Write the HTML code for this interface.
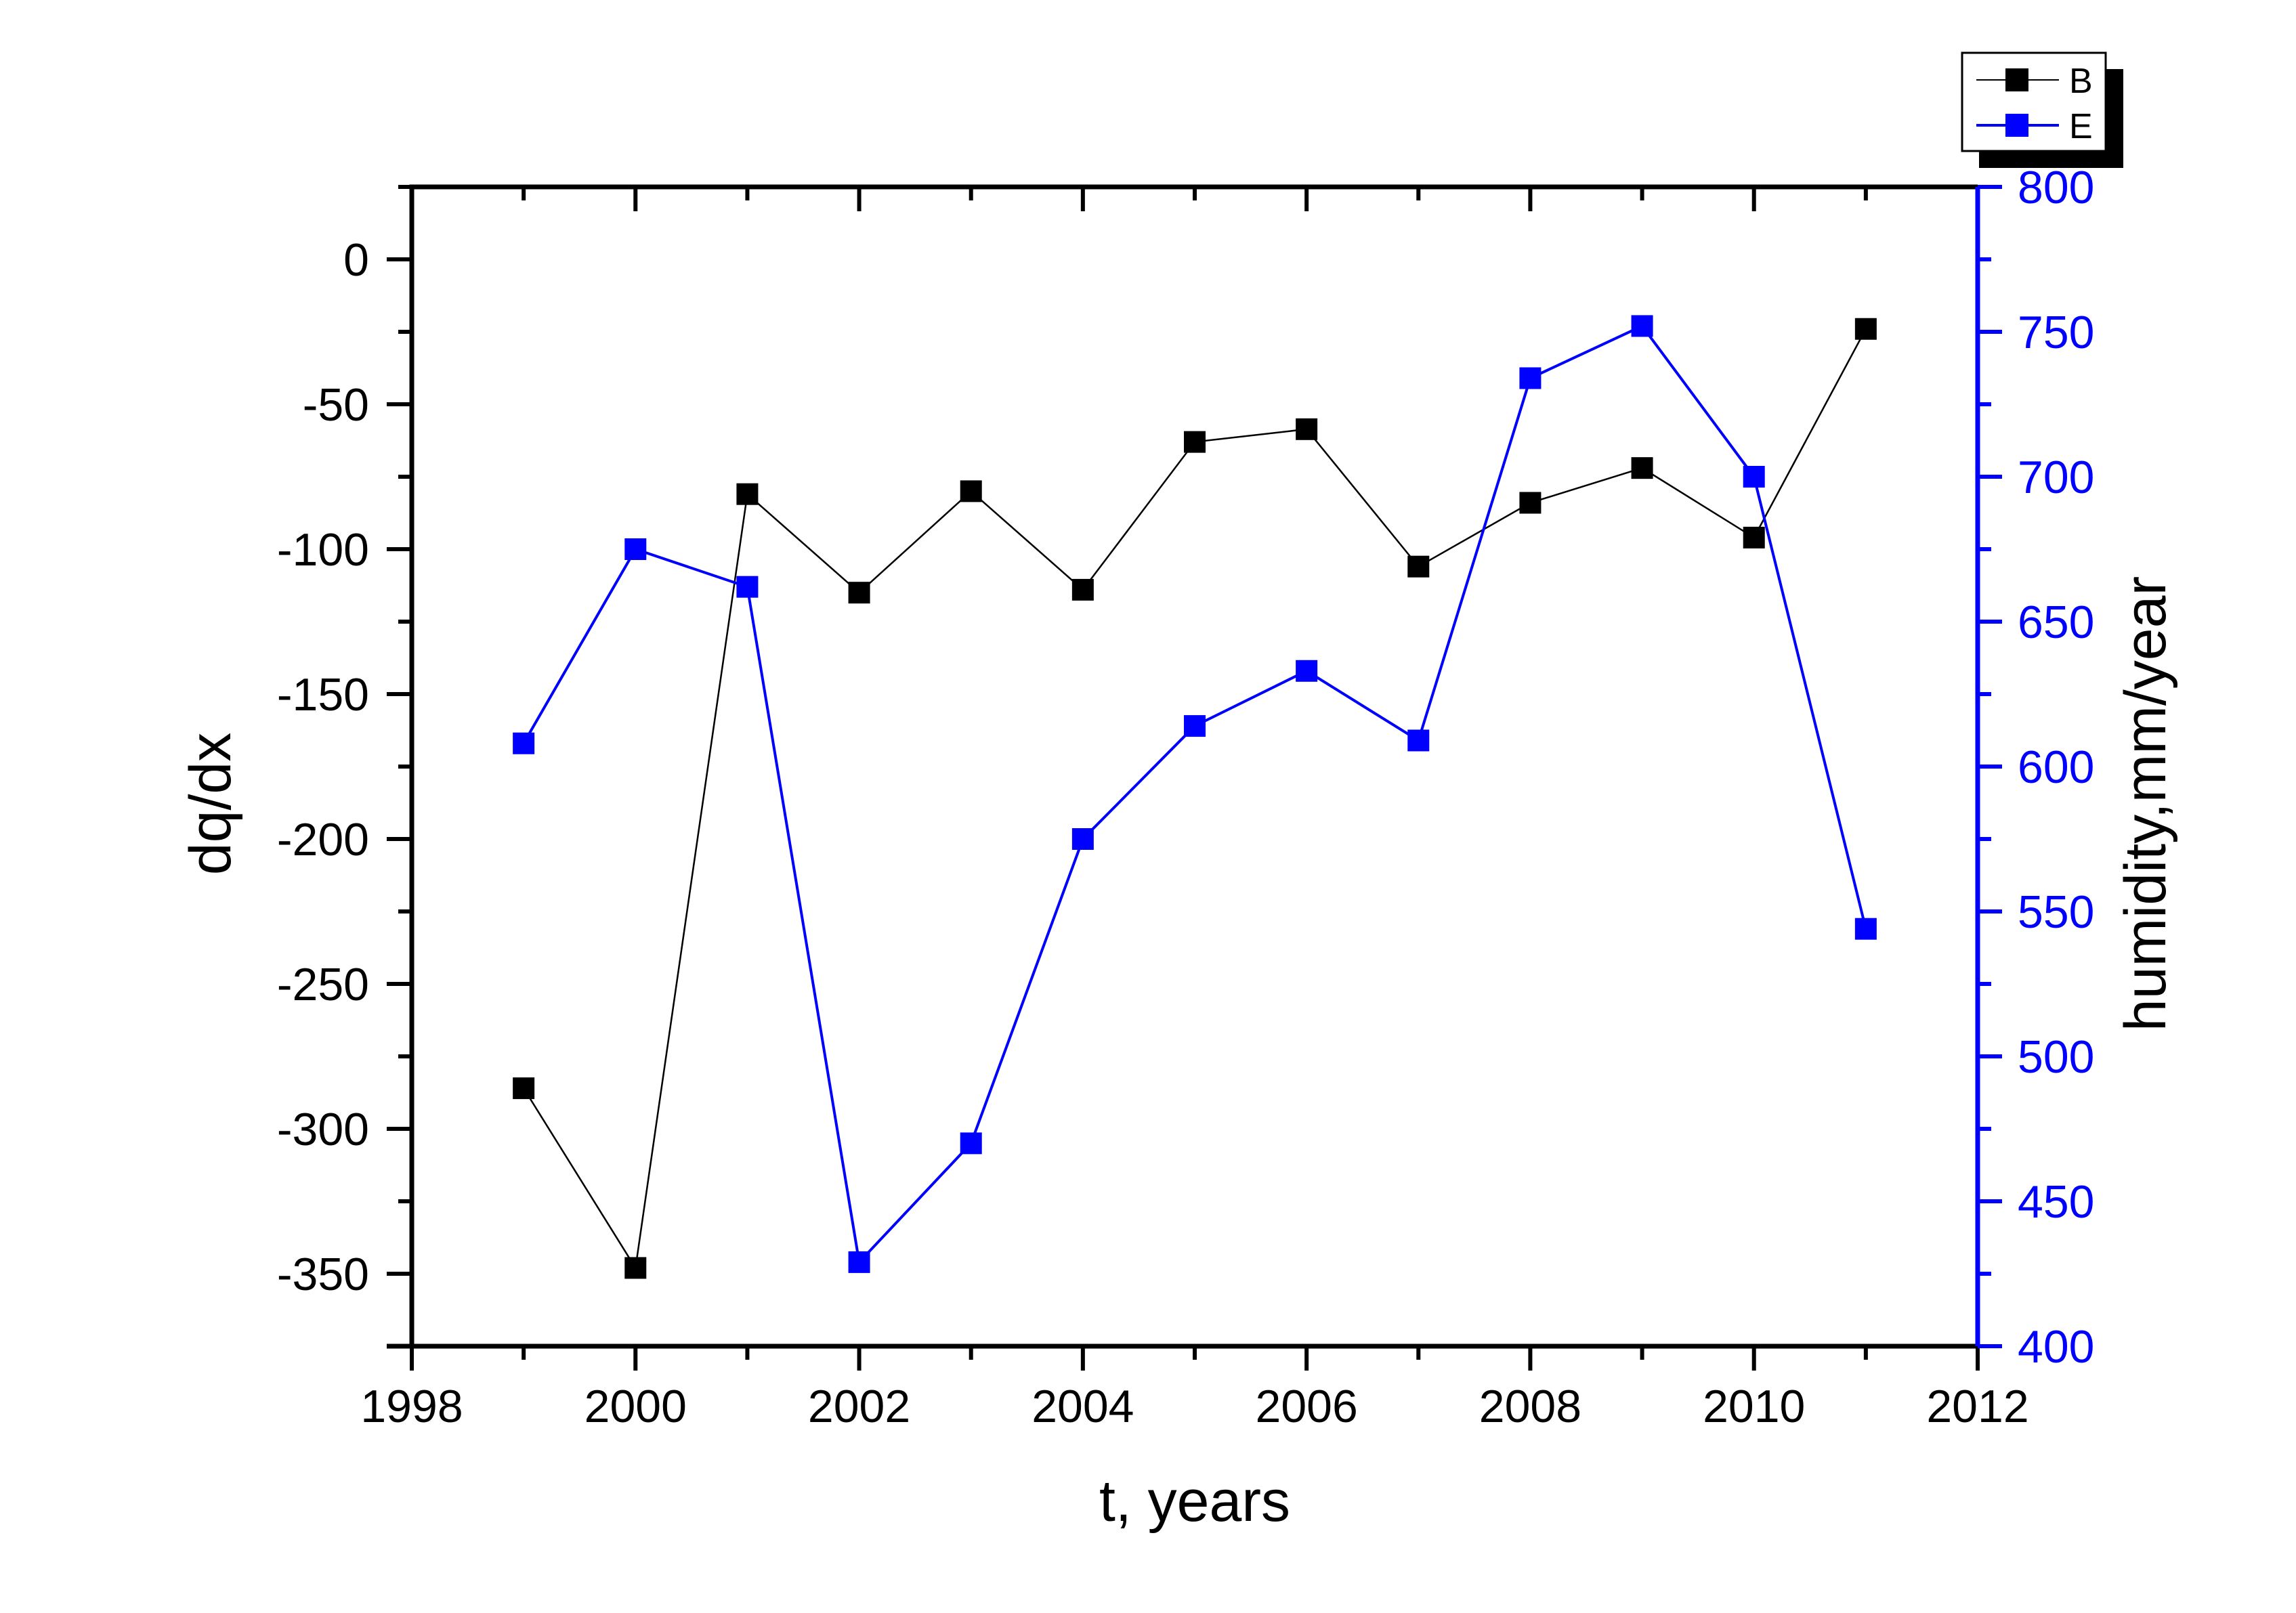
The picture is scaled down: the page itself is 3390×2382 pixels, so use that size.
<!DOCTYPE html>
<html><head><meta charset="utf-8"><style>
html,body{margin:0;padding:0;background:#fff}
svg{display:block;font-family:"Liberation Sans",Arial,sans-serif}
</style></head><body>
<svg id="chart" width="3390" height="2382" viewBox="0 0 3390 2382" xmlns="http://www.w3.org/2000/svg">
<g id="axes"></g>
<g id="series"></g>
<text x="0" y="0" transform="translate(340,1187) rotate(-90)" text-anchor="middle" font-size="86">dq/dx</text>
<text x="0" y="0" transform="translate(3197,1187) rotate(-90)" text-anchor="middle" font-size="86">humidity,mm/year</text>
<text x="1764" y="2246" text-anchor="middle" font-size="86">t, years</text>
<g>
<rect x="2922" y="102" width="213" height="146" fill="#000"/>
<rect x="2897" y="78" width="212" height="145" fill="#fff" stroke="#000" stroke-width="3"/>
<g>
<line x1="2918" y1="118" x2="3040" y2="118" stroke="#000" stroke-width="2"/>
<rect x="2961" y="101" width="34" height="34" fill="#000"/>
<text x="3055" y="137" font-size="52">B</text>
</g>
<g>
<line x1="2918" y1="185" x2="3040" y2="185" stroke="#00f" stroke-width="4"/>
<rect x="2961" y="168" width="34" height="34" fill="#00f"/>
<text x="3055" y="204" font-size="52">E</text>
</g>
</g>
</svg>
<script>
const years = [1999,2000,2001,2002,2003,2004,2005,2006,2007,2008,2009,2010,2011];
const seriesB = [-286,-348,-81,-115,-80,-114,-63,-58.6,-106,-84,-72,-96,-24];
const seriesE = [608,675,662,429,470,575,614,633,609,734,752,700,544];
const xTicks = [1998,2000,2002,2004,2006,2008,2010,2012];
const yTicks = [0,-50,-100,-150,-200,-250,-300,-350];
const y2Ticks = [400,450,500,550,600,650,700,750,800];

const L=608,R=2920,T=276,B=1988;
const xMin=1998,xMax=2012,yMin=-375,yMax=25,y2Min=400,y2Max=800;
function sx(v){return L+(v-xMin)/(xMax-xMin)*(R-L);}
function sy(v){return B-(v-yMin)/(yMax-yMin)*(B-T);}
function sy2(v){return B-(v-y2Min)/(y2Max-y2Min)*(B-T);}
const NS="http://www.w3.org/2000/svg";
function mk(tag,attrs,parent){const e=document.createElementNS(NS,tag);for(const k in attrs)e.setAttribute(k,attrs[k]);parent.appendChild(e);return e;}
const ax=document.getElementById('axes');
const sr=document.getElementById('series');

// x ticks (bottom outward, top inward), major + minor
for(let yr=xMin;yr<=xMax;yr++){
  const major=(yr%2===0);const x=sx(yr);const len=major?36:20;
  const t1=mk('line',{x1:x,y1:B,x2:x,y2:B+len,stroke:'#000','stroke-width':6},ax);
  
  
  const t2=mk('line',{x1:x,y1:T,x2:x,y2:T+len,stroke:'#000','stroke-width':6},ax);
  
  
}
xTicks.forEach(v=>{
  const t=mk('text',{x:sx(v),y:2100,'text-anchor':'middle','font-size':68},ax);
  t.textContent=v;
  
  
});
// left ticks
for(let v=yMax;v>=yMin;v-=25){
  const major=(v%50===0);const y=sy(v);
  const t=mk('line',{x1:L-(major?37:20),y1:y,x2:L,y2:y,stroke:'#000','stroke-width':6},ax);
  
  
}
yTicks.forEach(v=>{
  const t=mk('text',{x:545,y:sy(v)+24,'text-anchor':'end','font-size':68},ax);
  t.textContent=v;
  
  
});
// frame
const fr=mk('path',{d:`M${L},${B} L${L},${T} L${R},${T}`,fill:'none',stroke:'#000','stroke-width':7},ax);


const xa=mk('line',{x1:L-37,y1:B,x2:R,y2:B,stroke:'#000','stroke-width':7},ax);


// right axis
for(let v=y2Min;v<=y2Max;v+=25){
  const major=(v%50===0);const y=sy2(v);
  const t=mk('line',{x1:R,y1:y,x2:R+(major?36:20),y2:y,stroke:'#00f','stroke-width':6},ax);
  
  
}
const ra=mk('line',{x1:R,y1:T,x2:R,y2:B,stroke:'#00f','stroke-width':7},ax);


y2Ticks.forEach(v=>{
  const t=mk('text',{x:2979,y:sy2(v)+24,'text-anchor':'start','font-size':68,fill:'#00f'},ax);
  t.textContent=v;
  
  
});
// series
function draw(vals,fy,color,w,name){
  const pts=vals.map((v,i)=>sx(years[i])+','+fy(v)).join(' ');
  const pl=mk('polyline',{points:pts,fill:'none',stroke:color,'stroke-width':w},sr);
  
  
  vals.forEach((v,i)=>{
    const r=mk('rect',{x:sx(years[i])-16,y:fy(v)-16,width:32,height:32,fill:color},sr);
    
    
  });
}
draw(seriesB,sy,'#000',2.5,'series-b');
draw(seriesE,sy2,'#00f',4,'series-e');
</script>
</body></html>
